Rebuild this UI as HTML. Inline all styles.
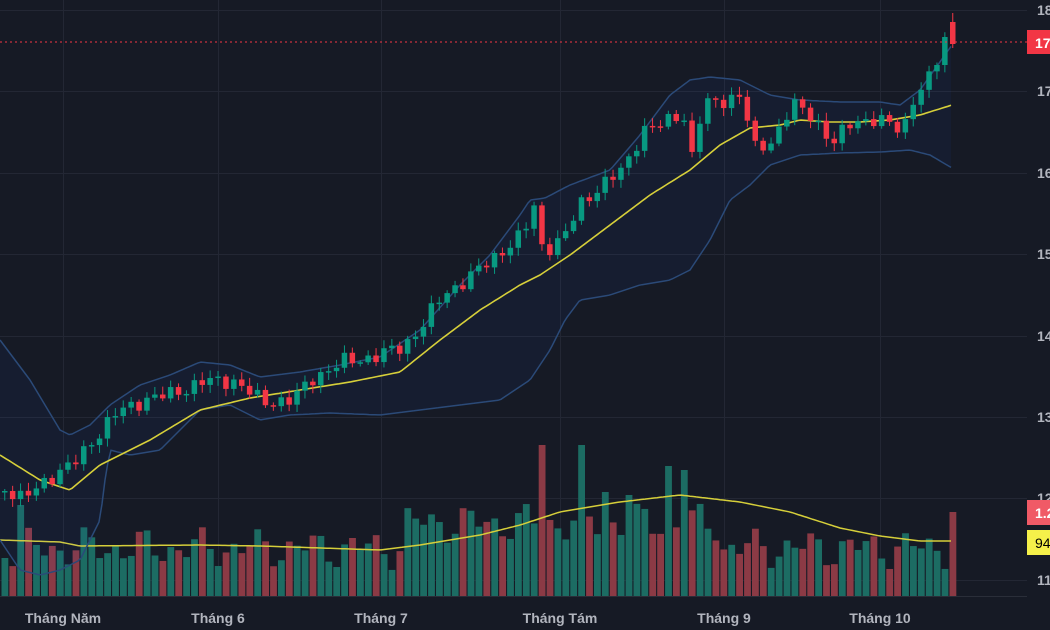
<!DOCTYPE html>
<html><head><meta charset="utf-8"><style>
html,body{margin:0;padding:0;background:#161a25;overflow:hidden;width:1050px;height:630px}
svg{display:block}
text{font-family:"Liberation Sans",sans-serif}
</style></head><body>
<svg id="s" width="1050" height="630" xmlns="http://www.w3.org/2000/svg">
<rect width="1050" height="630" fill="#161a25"/>
<g stroke="#232734" stroke-width="1">
<line x1="0" y1="10.5" x2="1027" y2="10.5"/><line x1="0" y1="91.5" x2="1027" y2="91.5"/>
<line x1="0" y1="173.5" x2="1027" y2="173.5"/><line x1="0" y1="254.5" x2="1027" y2="254.5"/>
<line x1="0" y1="336.5" x2="1027" y2="336.5"/><line x1="0" y1="417.5" x2="1027" y2="417.5"/>
<line x1="0" y1="498.5" x2="1027" y2="498.5"/><line x1="0" y1="580.5" x2="1027" y2="580.5"/>
<line x1="63.5" y1="0" x2="63.5" y2="596"/><line x1="218.5" y1="0" x2="218.5" y2="596"/>
<line x1="381.5" y1="0" x2="381.5" y2="596"/><line x1="560.5" y1="0" x2="560.5" y2="596"/>
<line x1="724.5" y1="0" x2="724.5" y2="596"/><line x1="880.5" y1="0" x2="880.5" y2="596"/>
</g>
<line x1="0" y1="596.5" x2="1027" y2="596.5" stroke="#2a2e39"/>
<g id="vol"></g><g id="band"></g><g id="candles"></g>
<line x1="0" y1="42" x2="1027" y2="42" stroke="#f23645" stroke-width="1" stroke-dasharray="2,3"/>
<g fill="#b2b5be" font-size="14" font-weight="bold">
<text x="1037" y="15">180</text><text x="1037" y="96">170</text><text x="1037" y="178">160</text>
<text x="1037" y="259">150</text><text x="1037" y="341">140</text><text x="1037" y="422">130</text>
<text x="1037" y="503">120</text><text x="1037" y="585">110</text>
<text x="63" y="623" text-anchor="middle">Tháng Năm</text><text x="218" y="623" text-anchor="middle">Tháng 6</text>
<text x="381" y="623" text-anchor="middle">Tháng 7</text><text x="560" y="623" text-anchor="middle">Tháng Tám</text>
<text x="724" y="623" text-anchor="middle">Tháng 9</text><text x="880" y="623" text-anchor="middle">Tháng 10</text>
</g>
<rect x="1027" y="30" width="23" height="24" fill="#f23645"/>
<text x="1035" y="48" fill="#fff" font-size="14" font-weight="bold">178</text>
<rect x="1027" y="500" width="23" height="25" fill="#f05a66"/>
<text x="1035" y="518" fill="#fff" font-size="14" font-weight="bold">1.2</text>
<rect x="1027" y="530" width="23" height="25" fill="#f5f04a"/>
<text x="1035" y="548" fill="#000" font-size="14">94</text>
</svg>
<script>
(function(){
function interp(k,x){for(var i=0;i<k.length-1;i++){if(x<=k[i+1][0]){var a=k[i],b=k[i+1];return a[1]+(b[1]-a[1])*(x-a[0])/(b[0]-a[0]);}}return k[k.length-1][1];}
function path(k){var d="";for(var x=0;x<=952;x+=3){d+=(x?"L":"M")+x+","+interp(k,x).toFixed(1);}return d;}
var price=[[5,490],[20,500],[45,478],[70,465],[90,440],[115,412],[140,400],[165,395],[200,382],[230,380],[260,402],[290,400],[310,378],[340,362],[370,357],[400,347],[420,325],[440,295],[470,275],[500,250],[520,235],[532,205],[540,250],[560,240],[580,200],[600,185],[620,170],[640,130],[660,125],[680,110],[690,160],[700,105],[720,100],[740,95],[750,150],[770,140],[790,105],[810,115],[830,145],[850,120],[870,120],[890,125],[900,130],[910,100],[930,75],[942,35],[952,30]];
var mid=[[0,455],[40,480],[70,490],[100,465],[150,440],[200,410],[250,398],[300,390],[350,382],[400,372],[440,340],[480,310],[520,285],[540,275],[570,255],[610,225],[650,195],[690,170],[720,145],[750,128],[780,125],[800,120],[830,122],[860,122],[890,120],[920,115],[952,105]];
var up=[[0,340],[30,380],[60,430],[70,435],[90,425],[110,405],[140,385],[170,375],[200,362],[230,365],[260,377],[300,372],[340,365],[380,357],[420,330],[460,285],[490,255],[520,215],[530,200],[545,198],[570,185],[610,170],[640,135],[670,95],[690,80],[710,77],[740,80],[770,95],[800,100],[840,102],[880,102],[900,105],[920,90],[952,45]];
var lo=[[0,540],[20,570],[40,575],[60,570],[80,560],[100,520],[105,480],[110,450],[130,455],[160,450],[200,410],[230,405],[260,420],[290,415],[330,413],[380,415],[420,410],[460,405],[500,400],[530,380],[550,350],[565,320],[580,300],[610,295],[640,285],[670,280],[690,270],[710,240],[730,200],[750,185],[770,165],[800,155],[840,153],[880,152],[910,150],[930,155],[952,168]];
var NS="http://www.w3.org/2000/svg";
function el(g,t,a){var e=document.createElementNS(NS,t);for(var k in a)e.setAttribute(k,a[k]);document.getElementById(g).appendChild(e);return e;}
var fill=path(up);for(var x=951;x>=0;x-=3){fill+="L"+x+","+interp(lo,x).toFixed(1);}fill+="Z";
el("band","path",{d:fill,fill:"rgba(41,98,255,0.05)"});
el("band","path",{d:path(up),fill:"none",stroke:"#2b4a78","stroke-width":1.5});
el("band","path",{d:path(lo),fill:"none",stroke:"#2b4a78","stroke-width":1.5});
el("band","path",{d:path(mid),fill:"none",stroke:"#d6cf3a","stroke-width":1.6});
var n=121,prev=interp(price,0)+5;
var spikes={15:505,538:445,577:445,662:466,950:512,680:470,600:492,630:495};
for(var i=0;i<n;i++){var x=2+i*7.9;var c=interp(price,x)+Math.sin(i*2.3)*6+Math.cos(i*1.1)*3;
var o=prev;
if(i==n-2){c=37;}
if(i==n-1){o=22;c=44;}
prev=c;var green=c<o;var col=green?"#089981":"#f23645";
var bt=Math.min(o,c),bb=Math.max(o,c);if(bb-bt<1.5)bb=bt+1.5;
var wt=bt-2-Math.abs(Math.sin(i*3.7))*6,wb=bb+2+Math.abs(Math.cos(i*2.9))*6;
if(i==n-1){wt=13;wb=48;}
el("candles","line",{x1:x+2.75,x2:x+2.75,y1:wt,y2:wb,stroke:col,"stroke-width":1});
el("candles","rect",{x:x,y:bt,width:5.5,height:bb-bt,fill:col});
var vt=548+Math.sin(i*1.7)*12+Math.cos(i*0.9)*10-(x>400&&x<720?25:0);
for(var s in spikes){if(Math.abs(s-x)<4)vt=spikes[s];}
el("vol","rect",{x:x-0.5,y:vt,width:6.8,height:596-vt,fill:green?"#1c6c63":"#8b3a45"});}
var vm=[[0,540],[60,542],[80,546],[200,545],[260,546],[380,550],[420,545],[480,535],[520,525],[560,512],[620,502],[680,495],[740,502],[790,512],[840,528],[880,536],[920,541],[952,541]];
el("vol","path",{d:path(vm),fill:"none",stroke:"#d6cf3a","stroke-width":1.5});
})();
</script>
</body></html>
